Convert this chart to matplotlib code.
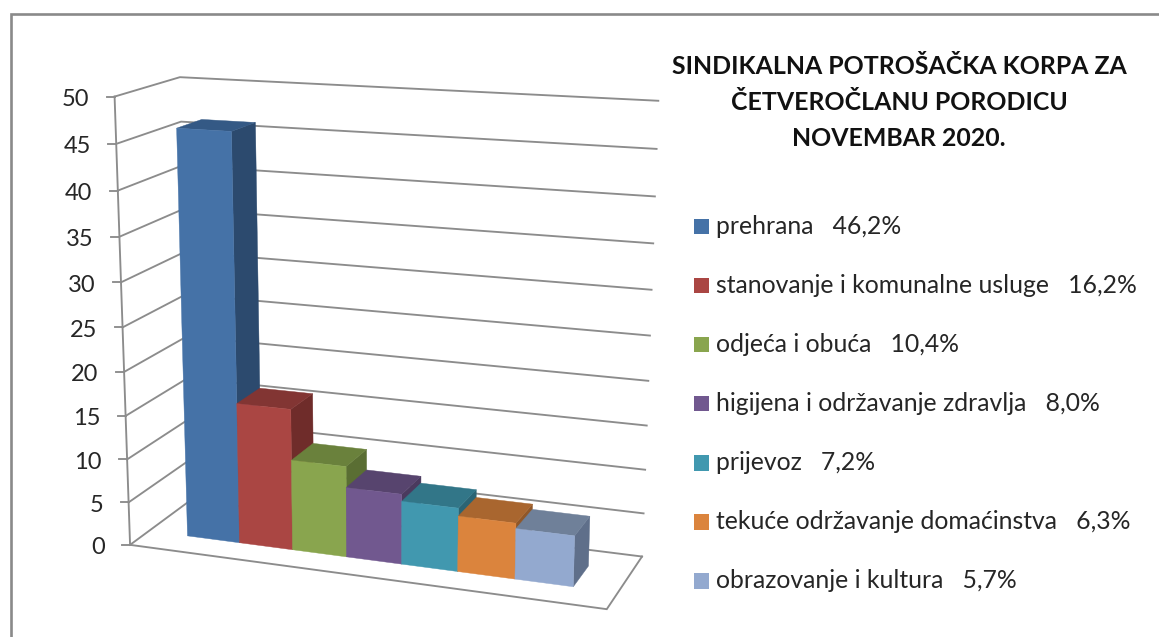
import numpy as np
import matplotlib
matplotlib.use("Agg")
import matplotlib.pyplot as plt
from matplotlib.patches import Polygon, Rectangle

# ---- data ----
categories = ["prehrana", "stanovanje i komunalne usluge", "odjeća i obuća",
              "higijena i održavanje zdravlja", "prijevoz",
              "tekuće održavanje domaćinstva", "obrazovanje i kultura"]
values = [46.2, 16.2, 10.4, 8.0, 7.2, 6.3, 5.7]
y_ticks = [0, 5, 10, 15, 20, 25, 30, 35, 40, 45, 50]
title_lines = ["SINDIKALNA POTROŠAČKA KORPA ZA", "ČETVEROČLANU PORODICU", "NOVEMBAR 2020."]

front_colors = ["#4572A7", "#AA4643", "#89A54E", "#71588F", "#4198AF", "#DB843D", "#93A9CF"]
top_colors = ["#345985", "#823533", "#6A813C", "#57446E", "#327688", "#A9662F", "#6F8099"]
side_colors = ["#2C4A6E", "#6F2C2A", "#5A6E33", "#4A3A5E", "#2B6474", "#905728", "#5F6F8A"]

GRID = "#8C8C8C"
TEXT = "#262626"
GAP = 0.75
NBARS = len(values)
X0, X1 = -GAP, NBARS + GAP
Z_FRONT, Z_BACK = 0.3, 0.7

# ---- camera calibration: box corners (world) <-> where they sit on the canvas ----
calib = [
    ((X0, 0, 0), (130, 544)), ((X0, 50, 0), (115, 96)), ((X0, 50, 1), (180, 77)),
    ((X0, 0, 1), (191, 500)), ((X1, 0, 1), (642, 557)), ((X1, 50, 1), (658, 101)),
    ((X1, 0, 0), (607, 609)), ((X1, 25, 1), (650, 335)), ((X0, 25, 0), (122, 329)),
]
A = []
for (X, Y, Z), (u, v) in calib:
    A.append([X, Y, Z, 1, 0, 0, 0, 0, -u * X, -u * Y, -u * Z, -u])
    A.append([0, 0, 0, 0, X, Y, Z, 1, -v * X, -v * Y, -v * Z, -v])
P = np.linalg.svd(np.array(A, float))[2][-1].reshape(3, 4)


def proj(x, y, z):
    u, v, w = P @ np.array([x, y, z, 1.0])
    return u / w, v / w


plt.rcParams["font.family"] = ["Lato", "DejaVu Sans"]
fig = plt.figure(figsize=(11.59, 6.37), dpi=100)
ax = fig.add_axes([0, 0, 1, 1])
ax.set_xlim(0, 1159)
ax.set_ylim(637, 0)
ax.axis("off")

# outer chart frame
ax.plot([10.5, 10.5, 1159], [637, 13.5, 13.5], color="#8A8A8A", lw=1.9, solid_joinstyle="miter")

lw = 1.35
# walls and gridlines
for t in y_ticks:
    a, b, c = proj(X0, t, 0), proj(X0, t, 1), proj(X1, t, 1)
    ax.plot([a[0], b[0], c[0]], [a[1], b[1], c[1]], color=GRID, lw=lw, zorder=1)
    ax.plot([a[0] - 8, a[0]], [a[1], a[1]], color=GRID, lw=lw, zorder=1)
    ax.text(a[0] - 25.5, a[1] + 3, str(t), ha="right", va="center", fontsize=17, color=TEXT)
a, b = proj(X0, 0, 0), proj(X0, y_ticks[-1], 0)
ax.plot([a[0], b[0]], [a[1], b[1]], color=GRID, lw=lw, zorder=1)
# floor
fl = [proj(X0, 0, 0), proj(X1, 0, 0), proj(X1, 0, 1)]
ax.plot([p[0] for p in fl], [p[1] for p in fl], color=GRID, lw=lw, solid_joinstyle="miter", zorder=1)

# bars, painted left to right
for i, h in enumerate(values):
    xl, xr = float(i), float(i + 1)
    side = [proj(xr, 0, Z_FRONT), proj(xr, 0, Z_BACK), proj(xr, h, Z_BACK), proj(xr, h, Z_FRONT)]
    top = [proj(xl, h, Z_FRONT), proj(xr, h, Z_FRONT), proj(xr, h, Z_BACK), proj(xl, h, Z_BACK)]
    front = [proj(xl, 0, Z_FRONT), proj(xr, 0, Z_FRONT), proj(xr, h, Z_FRONT), proj(xl, h, Z_FRONT)]
    z = 3 + i
    ax.add_patch(Polygon(side, closed=True, fc=side_colors[i], ec=side_colors[i], lw=0.3, zorder=z))
    ax.add_patch(Polygon(top, closed=True, fc=top_colors[i], ec=top_colors[i], lw=0.3, zorder=z))
    ax.add_patch(Polygon(front, closed=True, fc=front_colors[i], ec=front_colors[i], lw=0.3, zorder=z))

# title
for line, y in zip(title_lines, [67, 102.5, 138]):
    ax.text(899, y, line, ha="center", va="center", fontsize=17.9, fontweight="bold", color="#111111")

# legend
for i, (name, val) in enumerate(zip(categories, values)):
    yc = 226 + 59.15 * i
    ax.add_patch(Rectangle((693.5, yc - 7.5), 15.5, 15.5, fc=front_colors[i], ec="none"))
    label = f"{name}   {val:.1f}%".replace(".", ",")
    ax.text(716, yc, label, ha="left", va="center", fontsize=17.8, color=TEXT)

fig.savefig("out.png", dpi=100, facecolor="white")
